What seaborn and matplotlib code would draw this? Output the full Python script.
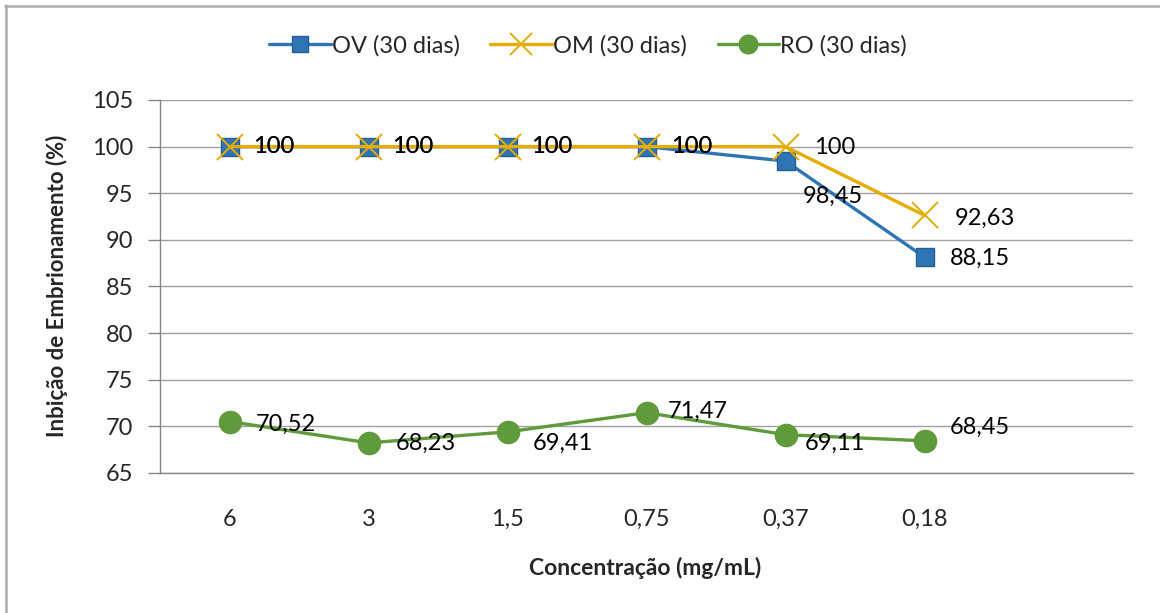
import matplotlib
matplotlib.use("Agg")
import matplotlib.pyplot as plt
from matplotlib.lines import Line2D
from matplotlib.ticker import FixedLocator
import seaborn as sns
import pandas as pd

# ---- data ----
categories = ["6", "3", "1,5", "0,75", "0,37", "0,18"]
ov_values = [100, 100, 100, 100, 98.45, 88.15]
om_values = [100, 100, 100, 100, 100, 92.63]
ro_values = [70.52, 68.23, 69.41, 71.47, 69.11, 68.45]
series_names = ["OV (30 dias)", "OM (30 dias)", "RO (30 dias)"]
y_ticks = [65, 70, 75, 80, 85, 90, 95, 100, 105]

# ---- style ----
sns.set_style("white")
plt.rcParams["font.family"] = ["Lato", "DejaVu Sans"]

colors = ["#2E75B6", "#E6AC00", "#5F9A3B"]
markers = ["s", "x", "o"]
msizes = [13, 19, 17]
# label offsets in pixels (dx right, dy up)
label_offsets = [
    [(24, 0), (24, 0), (24, 0), (25, 0), (17, -35), (25, -1)],
    [(24, 0), (24, 0), (24, 0), (25, 0), (29, -1), (30, -3)],
    [(26, -3), (27, 0), (25, -11), (21, 1), (19, -9), (25, 13)],
]

W, H = 1160, 613
fig = plt.figure(figsize=(W / 100, H / 100), dpi=100)
ax = fig.add_axes([160 / W, 1 - 473 / H, (1133 - 160) / W, (473 - 100) / H])

x_pos = list(range(len(categories)))
all_values = [ov_values, om_values, ro_values]
df = pd.DataFrame({"x": x_pos * 3,
                   "y": ov_values + om_values + ro_values,
                   "serie": sum([[n] * len(categories) for n in series_names], [])})

for i, name in enumerate(series_names):
    sub = df[df["serie"] == name]
    kw = dict(marker=markers[i], markersize=msizes[i], color=colors[i], linewidth=2.4,
              ax=ax, label=name, zorder=3 + i)
    if markers[i] == "x":
        kw.update(markeredgewidth=1.4, markeredgecolor=colors[i])
    elif markers[i] == "s":
        kw.update(markeredgewidth=1.0, markeredgecolor="#2A5D8F", markerfacecolor=colors[i])
    else:
        kw.update(markeredgewidth=0, markerfacecolor=colors[i])
    sns.lineplot(data=sub, x="x", y="y", **kw)

for i, vals in enumerate(all_values):
    for j, v in enumerate(vals):
        txt = ("%g" % v).replace(".", ",")
        dx, dy = label_offsets[i][j]
        ax.annotate(txt, (x_pos[j], v), xytext=(dx, dy), textcoords="offset pixels",
                    ha="left", va="center", fontsize=17, color="black", zorder=10)

ax.set_xlim(-0.5, len(categories) + 0.5)
ax.set_ylim(65, 105)
ax.set_yticks(y_ticks)
ax.set_yticklabels([str(t) for t in y_ticks])
ax.set_xticks(x_pos)
ax.set_xticklabels(categories)
ax.xaxis.set_minor_locator(FixedLocator([k - 0.5 for k in range(len(categories) + 2)]))
ax.tick_params(axis="x", which="major", length=0, labelsize=17, pad=26)
ax.tick_params(axis="x", which="minor", length=9, width=1, color="#868686", direction="out")
ax.tick_params(axis="y", which="major", length=9, width=1, color="#868686", direction="out",
               labelsize=17, pad=10, left=True)
ax.grid(axis="y", color="#A0A0A0", linewidth=1)
ax.grid(axis="x", visible=False)
ax.set_axisbelow(True)
for s in ["top", "right"]:
    ax.spines[s].set_visible(False)
for s in ["left", "bottom"]:
    ax.spines[s].set_visible(True)
    ax.spines[s].set_color("#868686")
    ax.spines[s].set_linewidth(1)

ax.set_xlabel("Concentração (mg/mL)", fontsize=16.5, fontweight="bold")
ax.set_ylabel("Inbição de Embrionamento (%)", fontsize=16, fontweight="bold")
ax.xaxis.label.set_va("center")
ax.yaxis.label.set_va("center")
ax.xaxis.set_label_coords((645 - 160) / 973, (473 - 568) / 373)
ax.yaxis.set_label_coords((57 - 160) / 973, (473 - 286) / 373)

leg = ax.legend(loc="center", bbox_to_anchor=(588 / W, 1 - 46 / H),
                bbox_transform=fig.transFigure, ncol=3, frameon=False, fontsize=17,
                handlelength=2.6, columnspacing=1.3, handletextpad=0.05, markerscale=0.85)

# partial outer frame (top and left edges only, as in the reference)
fig.add_artist(Line2D([5 / W, 1], [1 - 6 / H, 1 - 6 / H], transform=fig.transFigure,
                      color="#B0ACAC", linewidth=1.8))
fig.add_artist(Line2D([6 / W, 6 / W], [0, 1 - 5 / H], transform=fig.transFigure,
                      color="#B0ACAC", linewidth=1.8))

fig.savefig("out.png", dpi=100)
